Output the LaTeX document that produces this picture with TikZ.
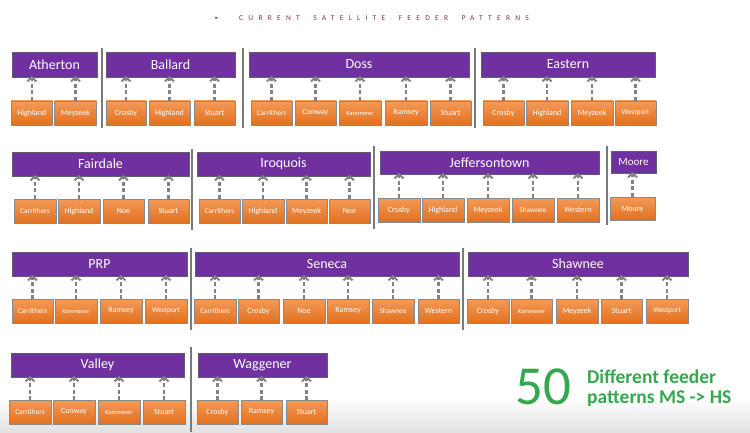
\documentclass[tikz,border=0pt]{standalone}
\usepackage{fontspec}
\setmainfont{Carlito}
\newfontfamily\symf{DejaVu Sans}
\usetikzlibrary{arrows.meta}
\definecolor{hdrpurple}{HTML}{7030A0}
\definecolor{hdrborder}{HTML}{5E5E6E}
\definecolor{kidtop}{HTML}{F49A58}
\definecolor{kidbot}{HTML}{E2701E}
\definecolor{kidborder}{HTML}{8A8A8A}
\definecolor{arrowgray}{HTML}{828282}
\definecolor{sepgray}{HTML}{7A7A7A}
\definecolor{titlered}{HTML}{7D3545}
\definecolor{bigGreen}{HTML}{34A84E}
\newcommand\Bx[8][]{\node[#2,#1,minimum width={(#5-#4)*1pt},minimum height={(#7-#6)*1pt}] (#3) at ({(#4+#5)/2},{(#6+#7)/2}) {#8};}
\newcommand\Ar[2]{\draw[feed] (#1.north) -- ([yshift=1pt]#1.north |- #2.south);}
\newcommand\wsp{\hspace{13.5pt}}
\begin{document}
\begin{tikzpicture}[x=1pt,y=-1pt,
  hdr/.style={draw=hdrborder, line width=0.8pt, fill=hdrpurple, text=white, inner sep=0pt, outer sep=0pt, font=\fontsize{14}{14}\selectfont},
  kid/.style={draw=kidborder, line width=0.8pt, top color=kidtop, bottom color=kidbot, text=white, inner sep=0pt, outer sep=0pt, font=\fontsize{8}{8}\selectfont},
  kidm/.style={font=\fontsize{7.3}{7.3}\selectfont},
  kids/.style={font=\fontsize{6.4}{6.4}\selectfont},
  feed/.style={draw=arrowgray, line width=2.2pt, dash pattern=on 4pt off 2.5pt, -{Straight Barb[length=4pt,width=9pt,line width=2pt]}},
  sep/.style={draw=sepgray, line width=1.4pt}]
\useasboundingbox (0,0) rectangle (750,433);
\shade[top color=white, bottom color=black!12] (0,398) rectangle (750,433);
% title
\node[text=titlered, font=\symf\fontsize{4.5}{4.5}\selectfont] (bullet) at (217,18.5) {►};
\node[anchor=base west, text=titlered, inner sep=0pt, font=\fontsize{7.5}{7.5}\selectfont\addfontfeature{LetterSpace=70}] (title) at (239,21) {CURRENT\wsp SATELLITE\wsp FEEDER\wsp PATTERNS};
% separators
\draw[sep] (102,48) -- (102,128);
\draw[sep] (243,48) -- (243,128);
\draw[sep] (475,48) -- (475,128);
\draw[sep] (192,149) -- (192,230);
\draw[sep] (374,146) -- (374,229);
\draw[sep] (607,146) -- (607,225);
\draw[sep] (191,248) -- (191,330);
\draw[sep] (463,248) -- (463,330);
\draw[sep] (191,347) -- (191,432);
% row 1
\Bx{hdr}{hA}{12}{97}{52}{77}{Atherton}
\Bx{kid}{a1}{11}{52.5}{101}{125}{Highland}
\Bx{kid}{a2}{54.5}{96.5}{101}{125}{Meyzeek}
\Bx{hdr}{hB}{106}{235}{52}{77}{Ballard}
\Bx{kid}{b1}{106}{146}{101}{125}{Crosby}
\Bx{kid}{b2}{149}{190}{101}{125}{Highland}
\Bx{kid}{b3}{194}{235}{101}{125}{Stuart}
\Bx{hdr}{hC}{249}{469}{52}{77}{Doss}
\Bx[kidm]{kid}{c1}{251}{292}{101}{125}{Carrithers}
\Bx{kid}{c2}{295}{336}{101}{125}{Conway}
\Bx[kids]{kid}{c3}{339}{381}{101}{125}{Kammerer}
\Bx{kid}{c4}{385}{427}{101}{125}{Ramsey}
\Bx{kid}{c5}{430}{471}{101}{125}{Stuart}
\Bx{hdr}{hD}{481}{655}{52}{77}{Eastern}
\Bx{kid}{d1}{483}{524}{101}{125}{Crosby}
\Bx{kid}{d2}{526}{568}{101}{125}{Highland}
\Bx{kid}{d3}{571}{613}{101}{125}{Meyzeek}
\Bx[kidm]{kid}{d4}{615}{656}{101}{125}{Westport}
% row 2
\Bx{hdr}{hE}{12}{189}{152}{176}{Fairdale}
\Bx[kidm]{kid}{e1}{14}{56}{199}{223}{Carrithers}
\Bx{kid}{e2}{58}{100}{199}{223}{Highland}
\Bx{kid}{e3}{103}{144}{199}{223}{Noe}
\Bx{kid}{e4}{148}{189}{199}{223}{Stuart}
\Bx{hdr}{hF}{197}{370}{152}{176}{Iroquois}
\Bx[kidm]{kid}{f1}{199}{240}{199}{223}{Carrithers}
\Bx{kid}{f2}{242}{284}{199}{223}{Highland}
\Bx{kid}{f3}{286}{327}{199}{223}{Meyzeek}
\Bx{kid}{f4}{329}{370}{199}{223}{Noe}
\Bx{hdr}{hG}{380}{599}{151}{174}{Jeffersontown}
\Bx{kid}{g1}{378}{420}{198}{222}{Crosby}
\Bx{kid}{g2}{422}{464}{198}{222}{Highland}
\Bx{kid}{g3}{467}{509}{198}{222}{Meyzeek}
\Bx[kidm]{kid}{g4}{512}{554}{198}{222}{Shawnee}
\Bx{kid}{g5}{557}{599}{198}{222}{Western}
\Bx[font=\fontsize{11}{11}\selectfont]{hdr}{hH}{611}{656}{151}{173}{Moore}
\Bx{kid}{h1}{610}{655}{197}{220}{Moore}
% row 3
\Bx{hdr}{hI}{12}{187}{252}{276}{PRP}
\Bx[kidm]{kid}{i1}{12}{53}{299}{323}{Carrithers}
\Bx[kids]{kid}{i2}{55}{97}{299}{323}{Kammerer}
\Bx{kid}{i3}{100}{142}{299}{323}{Ramsey}
\Bx[kidm]{kid}{i4}{145}{187}{299}{323}{Westport}
\Bx{hdr}{hJ}{195}{459}{252}{276}{Seneca}
\Bx[kidm]{kid}{j1}{194}{236}{299}{323}{Carrithers}
\Bx{kid}{j2}{238}{279}{299}{323}{Crosby}
\Bx{kid}{j3}{283}{325}{299}{323}{Noe}
\Bx{kid}{j4}{327}{369}{299}{323}{Ramsey}
\Bx[kidm]{kid}{j5}{372}{414}{299}{323}{Shawnee}
\Bx{kid}{j6}{418}{459}{299}{323}{Western}
\Bx{hdr}{hK}{468}{688}{252}{276}{Shawnee}
\Bx{kid}{k1}{467}{509}{299}{323}{Crosby}
\Bx[kids]{kid}{k2}{511}{552}{299}{323}{Kammerer}
\Bx{kid}{k3}{556}{598}{299}{323}{Meyzeek}
\Bx{kid}{k4}{601}{642}{299}{323}{Stuart}
\Bx[kidm]{kid}{k5}{646}{688}{299}{323}{Westport}
% row 4
\Bx{hdr}{hL}{11}{184}{353}{377}{Valley}
\Bx[kidm]{kid}{l1}{9}{51}{400}{424}{Carrithers}
\Bx{kid}{l2}{53}{95}{400}{424}{Conway}
\Bx[kids]{kid}{l3}{98}{140}{400}{424}{Kammerer}
\Bx{kid}{l4}{143}{185}{400}{424}{Stuart}
\Bx{hdr}{hM}{198}{327}{353}{377}{Waggener}
\Bx{kid}{m1}{197}{238}{400}{424}{Crosby}
\Bx{kid}{m2}{241}{282}{400}{424}{Ramsey}
\Bx{kid}{m3}{286}{327}{400}{424}{Stuart}
% arrows
\foreach \k in {a1,a2}{\Ar{\k}{hA}}
\foreach \k in {b1,b2,b3}{\Ar{\k}{hB}}
\foreach \k in {c1,c2,c3,c4,c5}{\Ar{\k}{hC}}
\foreach \k in {d1,d2,d3,d4}{\Ar{\k}{hD}}
\foreach \k in {e1,e2,e3,e4}{\Ar{\k}{hE}}
\foreach \k in {f1,f2,f3,f4}{\Ar{\k}{hF}}
\foreach \k in {g1,g2,g3,g4,g5}{\Ar{\k}{hG}}
\Ar{h1}{hH}
\foreach \k in {i1,i2,i3,i4}{\Ar{\k}{hI}}
\foreach \k in {j1,j2,j3,j4,j5,j6}{\Ar{\k}{hJ}}
\foreach \k in {k1,k2,k3,k4,k5}{\Ar{\k}{hK}}
\foreach \k in {l1,l2,l3,l4}{\Ar{\k}{hL}}
\foreach \k in {m1,m2,m3}{\Ar{\k}{hM}}
% note
\node[anchor=base west, inner sep=0pt, text=bigGreen, font=\fontsize{55}{55}\selectfont] (fifty) at (515,404) {50};
\node[anchor=base west, inner sep=0pt, text=bigGreen, font=\bfseries\fontsize{19.5}{19.5}\selectfont] (note1) at (587,383) {Different feeder};
\node[anchor=base west, inner sep=0pt, text=bigGreen, font=\bfseries\fontsize{19.5}{19.5}\selectfont] (note2) at (587,403) {patterns MS -> HS};
\end{tikzpicture}
\end{document}
